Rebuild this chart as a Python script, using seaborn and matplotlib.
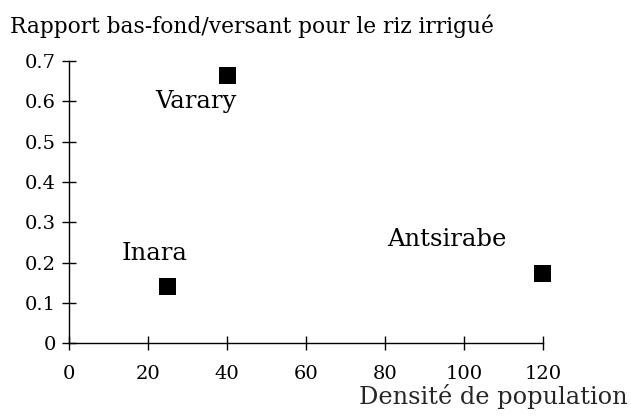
import matplotlib
matplotlib.use("Agg")
import matplotlib.pyplot as plt
import seaborn as sns
import pandas as pd

# Irrigated rice: lowland/upland ratio against population density
sites = ["Varary", "Inara", "Antsirabe"]
densite = [40, 25, 120]
rapport = [0.663, 0.140, 0.174]
x_ticks = [0, 20, 40, 60, 80, 100, 120]
y_ticks = [0, 0.1, 0.2, 0.3, 0.4, 0.5, 0.6, 0.7]
y_tick_labels = ["0", "0.1", "0.2", "0.3", "0.4", "0.5", "0.6", "0.7"]

df = pd.DataFrame({"site": sites, "densite": densite, "rapport": rapport})

sns.set_style("ticks")
plt.rcParams["font.family"] = ["DejaVu Serif"]
plt.rcParams["text.color"] = "black"

W, H = 631, 418
fig = plt.figure(figsize=(W / 100, H / 100), dpi=100)
x0, x1 = 69.3, 542.7
y0, y1 = 343.3, 61.0
ax = fig.add_axes([x0 / W, (H - y0) / H, (x1 - x0) / W, (y0 - y1) / H])

sns.scatterplot(data=df, x="densite", y="rapport", marker="s", s=150,
                color="black", edgecolor="none", ax=ax, clip_on=False,
                legend=False, zorder=5)

ax.set_xlim(0, 120)
ax.set_ylim(0, 0.7)
ax.set_xticks(x_ticks)
ax.set_xticklabels([str(v) for v in x_ticks])
ax.set_yticks(y_ticks)
ax.set_yticklabels(y_tick_labels)
for s in ["top", "right"]:
    ax.spines[s].set_visible(False)
for s in ["left", "bottom"]:
    ax.spines[s].set_linewidth(1.0)
    ax.spines[s].set_color("black")
ax.tick_params(axis="both", direction="inout", length=9.5, width=1.0,
               colors="black", labelcolor="black", labelsize=14)
ax.tick_params(axis="x", pad=11)
ax.tick_params(axis="y", pad=5)

# Site names (baseline positions)
label_pos = {"Varary": (32.1, 0.583), "Inara": (21.6, 0.207), "Antsirabe": (95.7, 0.241)}
for name in sites:
    lx, ly = label_pos[name]
    ax.text(lx, ly, name, ha="center", va="baseline", fontsize=17.5)

ax.set_xlabel("Densité de population", fontsize=17.3, ha="right", va="baseline")
ax.xaxis.set_label_coords((628 - x0) / (x1 - x0), (y0 - 404) / (y0 - y1))
ax.set_ylabel("")

fig.text(10 / W, 1 - 33 / H, "Rapport bas-fond/versant pour le riz irrigué",
         ha="left", va="baseline", fontsize=15.7)

fig.savefig("out.png", dpi=100, facecolor="white")
